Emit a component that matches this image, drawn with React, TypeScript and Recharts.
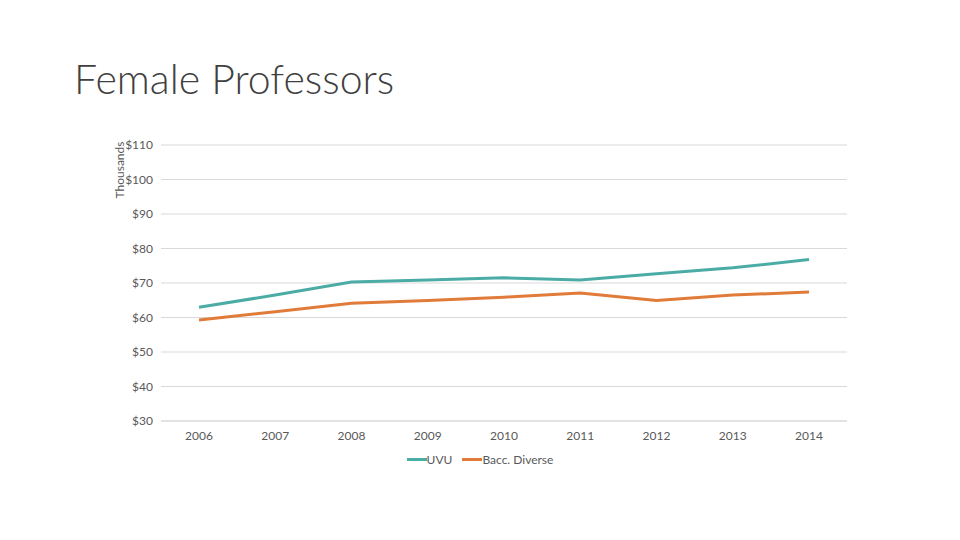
import {
  LineChart,
  Line,
  XAxis,
  YAxis,
  CartesianGrid,
} from "recharts";

const years = ["2006", "2007", "2008", "2009", "2010", "2011", "2012", "2013", "2014"];
const uvu = [63.0, 66.5, 70.3, 70.9, 71.5, 70.9, 72.7, 74.4, 76.8];
const baccDiverse = [59.3, 61.7, 64.1, 64.9, 65.9, 67.1, 64.9, 66.5, 67.4];
const yTicks = [30, 40, 50, 60, 70, 80, 90, 100, 110];

const seriesInfo = [
  { key: "UVU", color: "#4BACA6" },
  { key: "Bacc. Diverse", color: "#E07B39" },
];

const chartData = years.map((year, i) => ({
  year,
  UVU: uvu[i],
  "Bacc. Diverse": baccDiverse[i],
}));

const font = "Lato, 'Open Sans', sans-serif";
const tickStyle = { fontSize: 12, fill: "#595959", fontFamily: font };

// Legend drawn as short line swatch + label, like the Office chart
function ChartLegend() {
  return (
    <div
      style={{
        position: "absolute",
        top: 452,
        left: 0,
        width: 960,
        display: "flex",
        justifyContent: "center",
        gap: 10,
        fontFamily: font,
        fontSize: 12,
        color: "#595959",
      }}
    >
      {seriesInfo.map((s) => (
        <div key={s.key} style={{ display: "flex", alignItems: "center" }}>
          <span style={{ display: "inline-block", width: 20, height: 3, background: s.color }} />
          <span>{s.key}</span>
        </div>
      ))}
    </div>
  );
}

export default function App() {
  return (
    <div style={{ position: "absolute", left: 0, top: 0, width: 960, height: 540, background: "#fff" }}>
      <div
        style={{
          position: "absolute",
          left: 74,
          top: 54,
          fontSize: 41,
          fontWeight: 300,
          color: "#404040",
          fontFamily: font,
          whiteSpace: "nowrap",
        }}
      >
        Female Professors
      </div>
      <div
        style={{
          position: "absolute",
          left: 119,
          top: 170,
          transform: "translate(-50%, -50%) rotate(-90deg)",
          fontSize: 12,
          color: "#595959",
          fontFamily: font,
          whiteSpace: "nowrap",
        }}
      >
        Thousands
      </div>
      <LineChart
        width={960}
        height={540}
        data={chartData}
        margin={{ top: 145, right: 113, left: 121, bottom: 89 }}
      >
        <CartesianGrid vertical={false} stroke="#D9D9D9" />
        <XAxis
          dataKey="year"
          tick={tickStyle}
          tickLine={false}
          axisLine={{ stroke: "#D9D9D9" }}
          padding={{ left: 38, right: 38 }}
          tickMargin={4}
          interval={0}
        />
        <YAxis
          width={40}
          domain={[30, 110]}
          ticks={yTicks}
          tick={tickStyle}
          tickLine={false}
          axisLine={false}
          tickFormatter={(v) => `$${v}`}
        />
        {seriesInfo.map((s) => (
          <Line
            key={s.key}
            dataKey={s.key}
            stroke={s.color}
            strokeWidth={3}
            dot={false}
            type="linear"
            isAnimationActive={false}
          />
        ))}
      </LineChart>
      <ChartLegend />
    </div>
  );
}
